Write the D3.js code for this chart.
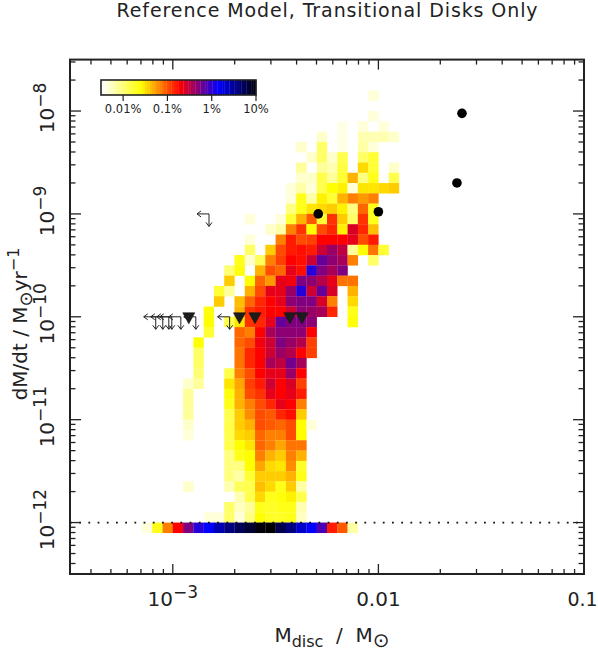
<!DOCTYPE html>
<html>
<head>
<meta charset="utf-8">
<style>
html,body{margin:0;padding:0;background:#fff;overflow:hidden}
svg{display:block}
text{font-family:"DejaVu Sans",sans-serif;fill:#222}
</style>
<script src="https://cdn.jsdelivr.net/npm/d3@7/dist/d3.min.js"></script>
</head>
<body>
<svg id="chart" width="598" height="653"></svg>
<script>
// log10(Mdot) of each heat-map row's upper edge
const rateTops = d3.range(43).map(i => -7.8 - 0.1 * i);
// first mass bin of each row (0.05 dex steps counted from 10^-3)
const startBins = [19,0,19,16,14,12,13,12,12,11,11,11,7,9,7,7,6,5,5,4,4,3,3,3,2,2,2,2,1,1,1,1,1,1,5,5,5,5,1,6,5,3,-3];
// occupancy level per cell (0 = empty, 40 = 10 %)
const occupancy = [
 [1.5],
 [],
 [1.5],
 [1,0,1.5,0,1.5],
 [2,0,1,0,3,3,3,2],
 [2,0,6,0,1,0,3.5,1.5],
 [2,6,2,7,0,6,8],
 [4,0,4,3,7.5,0,11.5,8,0,2],
 [2,2,7,4,8,13,5,9,0,7],
 [1.5,3.5,1.5,7,10,10.5,1.5,11,11,11.5,12],
 [1.5,9,3.5,10.5,8,13,15,14,15],
 [5,9,11,11.5,12,10.5,5,16,9],
 [1.5,0,0,1.5,8,13,16.5,8,18,12,6,18,9],
 [2,3.5,15,18,10,17,18.5,10.5,21.5,18.5,12.5],
 [1.5,0,0,15,19,17,17.5,20,20,20,21,17,19],
 [6,0,12,17,19,19.5,19,22,24,22.5,4,10,15.5,8],
 [9,2,6.5,15,17.5,20,19.5,22,26,24.5,23.5,15,0,6],
 [5.5,9.5,0,13,17,16,21,19.5,28.5,25,23.5,25],
 [12,0,10,16,14,21,20.5,25,24.5,23,21,15.5,15.5],
 [8,4,0,13,17,21,21,24,28.5,22,26,21.5,0,13],
 [12,0,12.5,16,18.5,20,21,24.5,25,25,21.5,15,0,11.5],
 [9.5,0,0,13,18,19,20,20,22,24.5,24,23.5,18.5,0,9],
 [10,0,7,11,18,18.5,21,26,25,25,24.5,0,0,0,9.5],
 [8,0,0,16,15,20,23.5,24.5,24.5,24.5,20],
 [10,0,0,0,16,17,20.5,22,25,24,23,17.5],
 [6,0,0,0,15.5,18.5,20,22,24,23,20,17.5],
 [6,0,0,0,15.5,18.5,20,23.5,22.5,25.5,23.5],
 [5.5,0,0,7,15,17,20,21,21,24,20],
 [2,4,0,0,11,13.5,17.5,19,22,20,21.5,17.5],
 [4,0,0,0,9.5,13,17,18,21,20,21,19],
 [4,0,0,0,9,13,15,17,18.5,21,20,15],
 [4,0,0,0,7,12,14.5,17,16.5,18.5,19.5,12],
 [2,0,0,0,7,12,13,17,16.5,16,17,10,1.5],
 [1.5,0,0,0,7,11.5,12,16,15,15,17,10],
 [7,10,11,16,15,13.5,15.5,15.5],
 [5,9,10,15,13,12,15,13],
 [5,5,10,13.5,11.5,11,14.5,8.5],
 [5,3.5,8,12,12,12,13,9],
 [2,0,0,0,3,6.5,7,12.5,11.5,9,12,3.5],
 [3,7,11.5,9,9.5,10.5,7],
 [6,2.5,4,9,8.5,9,9,3],
 [1.5,1.5,6,1.5,5,10,8.5,8.5,9,2.5],
 [1.5,9,15,20,25,28.5,30,33,35,36.5,38,39.5,40,37,35,32,30,27,19,16.5,3.5]
];
// observed discs
const detMass = [0.0051, 0.0100, 0.0241, 0.0255];
const detRate = [1.0e-9, 1.05e-9, 2.0e-9, 9.5e-9];
const triMass = [1.196e-3, 2.11e-3, 2.51e-3, 3.71e-3, 4.25e-3];
const triRate = [1e-10, 1e-10, 1e-10, 1e-10, 1e-10];
const arrowMass = [8.26e-4, 8.94e-4, 9.56e-4, 9.89e-4, 1.094e-3, 1.294e-3, 1.89e-3, 1.50e-3];
const arrowRate = [1e-10, 1e-10, 1e-10, 1e-10, 1e-10, 1e-10, 1e-10, 1e-9];
// colour bar
const barTicks = [0.01, 0.1, 1, 10];
const barLabels = ["0.01%", "0.1%", "1%", "10%"];
const xMajor = [1e-3, 0.01, 0.1];
const yMajorExp = [-8, -9, -10, -11, -12];

const svg = d3.select("#chart");
const ink = "#222";
const x = d3.scaleLog().domain([Math.pow(10,-3.5), 0.1]).range([70, 584]);
const y = d3.scaleLog().domain([Math.pow(10,-12.5), Math.pow(10,-7.5)]).range([574, 59.6]);
const levelToLog = d3.scaleLinear().domain([0, 40]).range([-2.5, 1]);
const colour = d3.scaleLinear()
  .domain([-2.5, -1.625, -0.75, 0.125, 1])
  .range(["#ffffff", "#ffff00", "#ff0000", "#0000ff", "#000000"]);

// heat map
const cells = [];
occupancy.forEach((row, r) => row.forEach((lv, i) => {
  if (lv > 0) cells.push({ k: startBins[r] + i, top: rateTops[r], lv });
}));
svg.append("g").selectAll("rect").data(cells).join("rect")
  .attr("x", d => x(Math.pow(10, -3 + 0.05 * d.k)))
  .attr("y", d => y(Math.pow(10, d.top)))
  .attr("width", d => x(Math.pow(10, -3 + 0.05 * (d.k + 1))) - x(Math.pow(10, -3 + 0.05 * d.k)) + 0.2)
  .attr("height", d => y(Math.pow(10, d.top - 0.1)) - y(Math.pow(10, d.top)) + 0.2)
  .attr("fill", d => colour(levelToLog(d.lv)));

// dotted line at the accretion floor
svg.append("line")
  .attr("x1", 70).attr("x2", 584).attr("y1", y(1e-12)).attr("y2", y(1e-12))
  .attr("stroke", "#111").attr("stroke-width", 1.8).attr("stroke-dasharray", "1.8 7.4");

// limit arrows
const ag = svg.append("g").attr("fill", "none").attr("stroke", "#222").attr("stroke-width", 1);
arrowMass.forEach((m, i) => {
  const cx = x(m), cy = y(arrowRate[i]);
  ag.append("path").attr("d",
    `M${cx},${cy}H${cx-12}l4,-3m-4,3l4,3M${cx},${cy}V${cy+12.5}l-3,-4m3,4l3,-4`);
});

// triangles
svg.append("g").selectAll("path").data(triMass).join("path")
  .attr("d", (m, i) => {
    const cx = x(m), cy = y(triRate[i]);
    return `M${cx-6},${cy-4}H${cx+6}L${cx},${cy+7}Z`;
  })
  .attr("fill", "#1c1c1c").attr("stroke", "#111").attr("stroke-width", 0.6);

// circles
svg.append("g").selectAll("circle").data(detMass).join("circle")
  .attr("cx", d => x(d)).attr("cy", (d, i) => y(detRate[i])).attr("r", 4.8).attr("fill", "#000");

// frame and ticks
svg.append("rect").attr("x", 70).attr("y", 59.6).attr("width", 514).attr("height", 514.4)
  .attr("fill", "none").attr("stroke", ink).attr("stroke-width", 2);

const xTicks = x.ticks(40).filter(t => t > x.domain()[0]*1.001 && t < 0.0999);
const yTicks = y.ticks(40).filter(t => t > y.domain()[0]*1.001 && t < y.domain()[1]*0.999);
const isMajor = t => Math.abs(Math.log10(t) - Math.round(Math.log10(t))) < 1e-6;
const tg = svg.append("g").attr("stroke", ink).attr("stroke-width", 1.3);
xTicks.forEach(t => {
  const l = isMajor(t) ? 10 : 5, px = x(t);
  tg.append("line").attr("x1", px).attr("x2", px).attr("y1", 574).attr("y2", 574 - l);
  tg.append("line").attr("x1", px).attr("x2", px).attr("y1", 59.6).attr("y2", 59.6 + l);
});
yTicks.forEach(t => {
  const l = isMajor(t) ? 11 : 5.5, py = y(t);
  tg.append("line").attr("x1", 70).attr("x2", 70 + l).attr("y1", py).attr("y2", py);
  tg.append("line").attr("x1", 584).attr("x2", 584 - l).attr("y1", py).attr("y2", py);
});

// x tick labels
const lab = 20;
xMajor.forEach(v => {
  if (v === 0.1) {
    svg.append("text").attr("x", x(v) - 1.5).attr("y", 606).attr("text-anchor", "middle")
      .attr("font-size", 19).text("0.1");
    return;
  }
  const t = svg.append("text").attr("x", x(v)).attr("y", 606).attr("text-anchor", "middle")
    .attr("font-size", lab);
  if (v === 1e-3) {
    t.append("tspan").text("10");
    t.append("tspan").attr("dy", -8).attr("font-size", 17).text("\u22123");
  } else t.text("0.01");
});
// y tick labels
yMajorExp.forEach(e => {
  const py = y(Math.pow(10, e));
  const t = svg.append("text").attr("transform", `translate(54,${py - 3}) rotate(-90)`)
    .attr("text-anchor", "middle").attr("font-size", lab);
  t.append("tspan").text("10");
  t.append("tspan").attr("dy", -8).attr("font-size", 17).text("\u2212" + Math.abs(e));
});

// colour bar
const bar = d3.scaleLinear().domain([-2.5, 1]).range([101, 256]);
const barLevels = d3.range(-2.5, 1, 3.5 / 64);
svg.append("g").selectAll("rect").data(barLevels).join("rect")
  .attr("x", d => bar(d)).attr("y", 80).attr("height", 15)
  .attr("width", 155 / 64 + 0.3).attr("fill", d => colour(d));
svg.append("rect").attr("x", 101).attr("y", 80).attr("width", 155).attr("height", 15)
  .attr("fill", "none").attr("stroke", ink).attr("stroke-width", 1.6);
barTicks.forEach((v, i) => {
  const px = bar(Math.log10(v));
  svg.append("line").attr("x1", px).attr("x2", px).attr("y1", 95).attr("y2", 101)
    .attr("stroke", ink).attr("stroke-width", 1.2);
  svg.append("text").attr("x", px).attr("y", 113).attr("text-anchor", "middle")
    .attr("font-size", 11.5).text(barLabels[i]);
});

// titles
svg.append("text").attr("x", 327.5).attr("y", 17).attr("text-anchor", "middle")
  .attr("font-size", 19).attr("letter-spacing", 0.9).text("Reference Model, Transitional Disks Only");

const xl = svg.append("text").attr("x", 332).attr("y", 642).attr("text-anchor", "middle").attr("font-size", 20);
xl.append("tspan").text("M");
xl.append("tspan").attr("dy", 5).attr("font-size", 16).text("disc");
xl.append("tspan").attr("dy", -5).text("\u00a0\u00a0/\u00a0\u00a0M");
xl.append("tspan").attr("dy", 5).attr("font-size", 20).text("\u2299");

const yl = svg.append("text").attr("transform", "translate(27,324) rotate(-90)")
  .attr("text-anchor", "middle").attr("font-size", 20);
yl.append("tspan").text("dM/dt\u00a0/\u00a0M");
yl.append("tspan").attr("dy", 5).attr("font-size", 18).text("\u2299");
yl.append("tspan").attr("dy", -5).text("yr");
yl.append("tspan").attr("dy", -8).attr("font-size", 16).text("\u22121");
</script>
</body>
</html>
